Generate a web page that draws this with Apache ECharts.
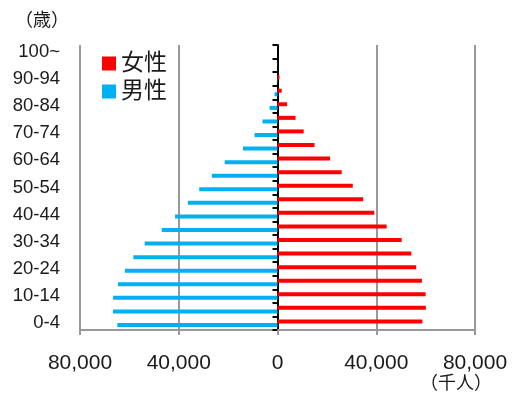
<!DOCTYPE html>
<html>
<head>
<meta charset="utf-8">
<script src="https://cdn.jsdelivr.net/npm/echarts@6/dist/echarts.min.js"></script>
<style>
  html, body { margin: 0; padding: 0; background: #fff; }
  #chart { width: 522px; height: 394px; }
</style>
</head>
<body>
<div id="chart"></div>
<script>
// age groups, bottom to top
var ageGroups = ['0-4', '5-9', '10-14', '15-19', '20-24', '25-29', '30-34', '35-39',
  '40-44', '45-49', '50-54', '55-59', '60-64', '65-69', '70-74', '75-79',
  '80-84', '85-89', '90-94', '95-99', '100~'];
// 千人
var female = [58700, 60100, 60000, 58500, 56200, 54200, 50300, 44200,
  39200, 34700, 30500, 26000, 21300, 15000, 10600, 7300,
  3900, 1700, 800, 150, 20];
var male = [64900, 66600, 66600, 64600, 61800, 58400, 53800, 46900,
  41500, 36300, 31700, 26600, 21400, 14000, 9300, 6100,
  3200, 1200, 150, 30, 5];
var xTicks = [-80000, -40000, 0, 40000, 80000];

var font = '"Liberation Sans", Arial, "Noto Sans CJK JP", sans-serif';

var chart = echarts.init(document.getElementById('chart'));
var option = {
  animation: false,
  textStyle: { fontFamily: font },
  grid: { left: 80, right: 47, top: 45, bottom: 64, containLabel: false },
  legend: {
    orient: 'vertical',
    left: 97,
    top: 47,
    icon: 'rect',
    itemWidth: 14,
    itemHeight: 14,
    itemGap: 5,
    textStyle: { fontSize: 23, color: '#1a1a1a', fontFamily: font },
    data: ['女性', '男性']
  },
  graphic: [
    { type: 'text', left: 15, top: 12,
      style: { text: '（歳）', fontSize: 18, fill: '#1a1a1a', fontFamily: font } },
    { type: 'text', left: 420, top: 375,
      style: { text: '（千人）', fontSize: 18, fill: '#1a1a1a', fontFamily: font } }
  ],
  xAxis: {
    type: 'value',
    min: xTicks[0],
    max: xTicks[xTicks.length - 1],
    interval: 40000,
    axisLine: { show: true, lineStyle: { color: '#999', width: 2 } },
    axisTick: { show: true, length: 5, lineStyle: { color: '#999', width: 2 } },
    splitLine: { show: true, lineStyle: { color: '#999', width: 2 } },
    axisLabel: {
      fontSize: 21, color: '#1a1a1a', margin: 23,
      formatter: function (v) { return Math.abs(v).toLocaleString('en-US'); }
    }
  },
  yAxis: [
    {
      type: 'category',
      data: ageGroups,
      position: 'left',
      axisLine: { show: false, onZero: false },
      axisTick: { show: false },
      axisLabel: { interval: 1, fontSize: 18.5, color: '#1a1a1a', margin: 20 }
    },
    {
      type: 'category',
      data: ageGroups,
      position: 'left',
      axisLine: { show: true, onZero: true, lineStyle: { color: '#000', width: 2 } },
      axisTick: { show: true, interval: 0, length: 5, lineStyle: { color: '#000', width: 2 } },
      axisLabel: { show: false }
    }
  ],
  series: [
    {
      name: '女性',
      type: 'bar',
      yAxisIndex: 0,
      barWidth: 4,
      barGap: '-10%',
      itemStyle: { color: '#ff0000' },
      data: female
    },
    {
      name: '男性',
      type: 'bar',
      yAxisIndex: 0,
      barWidth: 4,
      barGap: '-10%',
      itemStyle: { color: '#00b0f0' },
      data: male.map(function (v) { return -v; })
    }
  ]
};
chart.setOption(option);
</script>
</body>
</html>
